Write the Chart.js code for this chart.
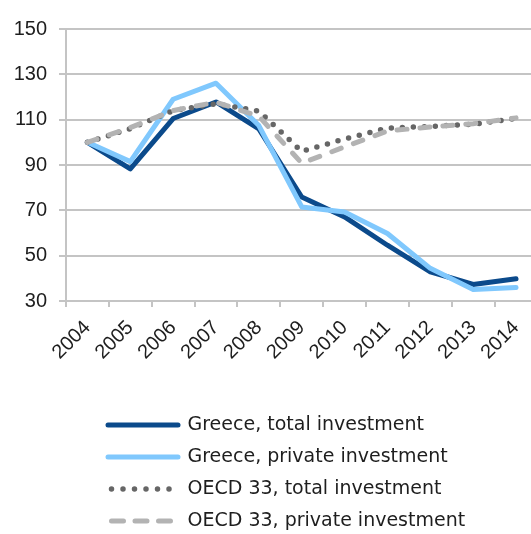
<!DOCTYPE html>
<html lang="en">
<head>
    <meta charset="UTF-8">
    <title>Investment index, Greece vs OECD 33</title>
    <style>
        body {
            margin: 0;
            overflow: hidden;
            background: #ffffff;
        }
        #chart {
            display: block;
        }
    </style>
</head>
<body>

<canvas id="chart" width="542" height="534"></canvas>

<script src="https://cdn.jsdelivr.net/npm/chart.js"></script>
<script>
    // values (2004 = 100)
    const years = ['2004', '2005', '2006', '2007', '2008', '2009', '2010', '2011', '2012', '2013', '2014'];
    const greeceTotal = [100, 88.3, 110.5, 117.8, 105.9, 75.9, 67.1, 54.6, 42.9, 37.3, 39.8];
    const greecePrivate = [100, 91.5, 119, 126.1, 107.4, 71.5, 69.3, 59.8, 44.4, 35.1, 36];
    const oecdTotal = [100, 106, 114, 117, 113.8, 96, 101.5, 106.3, 107, 108, 110.5];
    const oecdPrivate = [100, 106.5, 114, 117.7, 111.5, 90.8, 98, 105, 106.8, 108.2, 110.8];
    const yTicks = [30, 50, 70, 90, 110, 130, 150];

    const gridColor = '#c4c4c4';
    const textColor = '#1e1e1e';

    // legend sits indented under the plot, nudge it there
    const legendShift = {
        id: 'legendShift',
        afterLayout(chart) {
            chart.legend.left = 95;
            chart.legend.top += 6.5;
        }
    };

    const data = {
        labels: years,
        datasets: [
            {
                label: 'Greece, total investment',
                data: greeceTotal,
                borderColor: '#0b4a8b',
                borderWidth: 5,
                borderCapStyle: 'round',
                order: 4
            },
            {
                label: 'Greece, private investment',
                data: greecePrivate,
                borderColor: '#80c8fd',
                borderWidth: 5,
                borderCapStyle: 'round',
                order: 3
            },
            {
                label: 'OECD 33, total investment',
                data: oecdTotal,
                borderColor: '#666666',
                borderWidth: 5.5,
                borderDash: [0, 11],
                borderCapStyle: 'round',
                legendDash: [0, 11.5],
                order: 2
            },
            {
                label: 'OECD 33, private investment',
                data: oecdPrivate,
                borderColor: '#b3b3b3',
                borderWidth: 5,
                borderDash: [10, 13],
                borderCapStyle: 'round',
                legendDash: [12, 11.5],
                order: 1
            }
        ]
    };

    const options = {
        responsive: false,
        animation: false,
        devicePixelRatio: 1,
        layout: {
            padding: { top: 29, right: 0, bottom: 0, left: 0 }
        },
        elements: {
            point: { radius: 0 },
            line: { tension: 0, borderJoinStyle: 'round' }
        },
        plugins: {
            tooltip: { enabled: false },
            legend: {
                position: 'bottom',
                align: 'start',
                labels: {
                    usePointStyle: true,
                    pointStyle: 'line',
                    pointStyleWidth: 70,
                    padding: 13,
                    color: textColor,
                    font: { family: 'DejaVu Sans', size: 19 },
                    generateLabels: function(chart) {
                        return chart.data.datasets.map((ds, i) => ({
                            text: ds.label,
                            fillStyle: ds.borderColor,
                            strokeStyle: ds.borderColor,
                            lineWidth: ds.borderWidth,
                            lineDash: ds.legendDash || [],
                            lineDashOffset: ds.legendDash ? -3.5 : 0,
                            lineCap: ds.borderCapStyle,
                            pointStyle: 'line',
                            fontColor: textColor,
                            hidden: false,
                            datasetIndex: i
                        }));
                    }
                }
            }
        },
        scales: {
            x: {
                offset: true,
                afterFit: function(scale) { scale.height = 95; },
                grid: {
                    offset: true,
                    drawOnChartArea: false,
                    drawTicks: true,
                    tickLength: 6,
                    color: gridColor,
                    lineWidth: 2
                },
                border: { color: gridColor, width: 2 },
                ticks: {
                    autoSkip: false,
                    minRotation: 45,
                    maxRotation: 45,
                    padding: 9,
                    color: textColor,
                    font: { family: 'Liberation Sans', size: 20 }
                }
            },
            y: {
                min: 30,
                max: 150,
                afterFit: function(scale) { scale.width = 66; },
                afterBuildTicks: function(scale) {
                    scale.ticks = yTicks.map(v => ({ value: v }));
                },
                grid: {
                    color: gridColor,
                    lineWidth: 2,
                    tickLength: 7
                },
                border: { color: gridColor, width: 2 },
                ticks: {
                    padding: 12,
                    color: textColor,
                    font: { family: 'Liberation Sans', size: 20 }
                }
            }
        }
    };

    const chart = new Chart(document.getElementById('chart'), {
        type: 'line',
        data: data,
        options: options,
        plugins: [legendShift]
    });
</script>

</body>
</html>
